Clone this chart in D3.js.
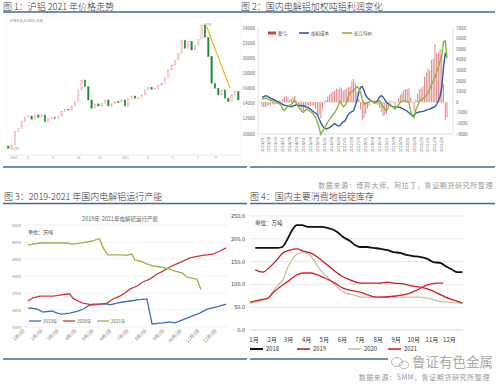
<!DOCTYPE html>
<html>
<head>
<meta charset="utf-8">
<script src="https://cdn.jsdelivr.net/npm/d3@7/dist/d3.min.js"></script>
<style>
  body { margin: 0; background: #fff; }
  svg { display: block; font-family: "Noto Sans CJK SC", "Noto Sans", sans-serif; }
</style>
</head>
<body>
<svg id="chart" width="500" height="386"></svg>
<script>
// ---------- panel 1: SHFE aluminium candles (close per bar) ----------
const p1FirstOpen = 11450;
const p1Close = [11200, 11570, 13030, 13400, 14130, 14610, 14760, 14390, 14870, 14610,
  14870, 14130, 14500, 14610, 14500, 14760, 15230, 15490, 15420, 15860,
  16330, 17620, 18720, 17980, 16520, 15600, 16080, 15860, 16150, 16520,
  15860, 16080, 16330, 16220, 16520, 15860, 16700, 16960, 16700, 16810,
  17070, 17620, 17910, 17690, 17800, 18170, 18350, 19010, 19820, 20370,
  20910, 21650, 23040, 22200, 22930, 22010, 22560, 23190, 24765, 23400,
  21280, 18350, 17800, 17070, 17620, 16700, 16330, 17070, 17430, 16520];
const p1AxisLabels = ['2020', '6', '8', '10', '12', '2021', '3', '5', '7', '9'];
const p1AxisAt = [0.5, 5.5, 13, 20.5, 27, 34, 41.5, 49, 56.5, 62];
const p1Trend = [{ k: 59.5, p: 24600 }, { k: 66.5, p: 17800 }];

// ---------- panel 2: monthly price / cost / profit, 2013/01 - 2021/12 ----------
const p2Price = [14620, 14700, 14750, 14700, 14550, 14450, 14400, 14300, 14200, 14100,
  14000, 13800, 13300, 13070, 13400, 13600, 13800, 13950, 14200, 14400,
  14000, 13600, 13300, 13000, 12850, 13100, 13290, 13100, 12950, 12800,
  12500, 12180, 11600, 10900, 9960, 10400, 10700, 11100, 11600, 11900,
  12200, 12600, 12800, 13200, 13700, 14300, 14000, 13600, 13800, 14180,
  15000, 15500, 15600, 15730, 16000, 16270, 16000, 15500, 14600, 13960,
  14050, 14150, 14250, 14400, 14300, 14050, 14100, 14250, 14400, 14000,
  13600, 13300, 13070, 13500, 13960, 13700, 13500, 13290, 13600, 13900,
  14180, 14300, 14400, 14350, 14250, 14180, 13000, 12300, 12180, 13200,
  13700, 14300, 14500, 14650, 14800, 15100, 15450, 15900, 16500, 17000,
  17510, 18200, 18840, 19600, 20400, 22180, 22300, 20000];
const p2Cost = [14840, 14950, 15060, 15000, 14850, 14700, 14620, 14550, 14400, 14300,
  14200, 14000, 13900, 13800, 13750, 13700, 13650, 13600, 13700, 13800,
  13870, 13800, 13750, 13730, 13730, 13650, 13550, 13450, 13290, 13100,
  12900, 12750, 12620, 12000, 11500, 11100, 10800, 10650, 10750, 10850,
  11000, 11200, 11380, 11200, 11050, 11100, 11400, 11600, 11730, 12200,
  12600, 12840, 12950, 13070, 13800, 14500, 15500, 16180, 16270, 15700,
  15100, 14800, 14600, 14400, 14300, 14250, 14200, 14500, 14900, 15070,
  14900, 14500, 14200, 14000, 13800, 13650, 13600, 13580, 13550, 13530,
  13500, 13400, 13250, 13150, 13000, 12800, 12600, 12400, 12500, 12750,
  12850, 12900, 12950, 12980, 13050, 13150, 13250, 13290, 13400, 13500,
  13600, 13900, 14400, 15000, 16180, 18840, 20620, 20400];
const p2Profit = [-400, -500, -450, -350, -300, -250, -200, -200, -150, -150,
  -100, 100, 300, 500, 600, 400, 200, 300, 500, 600,
  100, -200, -450, -700, -850, -600, -300, -400, -350, -300,
  -400, -600, -1000, -1200, -1500, -700, -100, 200, 500, 700,
  900, 1000, 1100, 1300, 1200, 1400, 1300, 1100, 1200, 1300,
  1400, 1500, 2000, 2200, 1800, 1000, 300, -700, -1700, -1500,
  -1100, -600, -350, 0, 100, -200, -100, -250, -500, -900,
  -1300, -1200, -1100, -500, 160, 50, -100, -300, 50, 370,
  680, 900, 1150, 1200, 1250, 1300, 400, -100, -900, 300,
  800, 1200, 1300, 1500, 2400, 2800, 3200, 3000, 4000, 4100,
  5500, 4600, 4700, 5000, 4500, 1700, -1700, -1400];
const p2Start = new Date(2013, 0, 1);
const p2LabelMonths = d3.range(0, 108, 4);

// ---------- panel 3: operating capacity (day of year, 10k t) ----------
const p3Days2019 = [7, 23, 33, 49, 58, 66, 80, 94, 103, 112, 120, 145, 150, 162, 172, 185, 197, 214, 223, 242, 254, 263, 275, 289, 306, 320, 336, 352];
const p3Cap2019 = [3612, 3606, 3588, 3594, 3582, 3576, 3582, 3594, 3606, 3624, 3635, 3635, 3630, 3641, 3647, 3653, 3659, 3665, 3518, 3524, 3530, 3524, 3541, 3559, 3582, 3606, 3618, 3635];
const p3Days2020 = [7, 16, 28, 51, 63, 75, 80, 85, 94, 103, 112, 120, 132, 145, 155, 167, 176, 185, 197, 207, 219, 232, 242, 254, 266, 277, 289, 306, 318, 329, 341, 352];
const p3Cap2020 = [3653, 3671, 3682, 3682, 3688, 3694, 3694, 3671, 3653, 3641, 3635, 3629, 3635, 3641, 3665, 3682, 3700, 3724, 3741, 3765, 3782, 3812, 3829, 3853, 3871, 3888, 3906, 3918, 3924, 3929, 3947, 3965];
const p3Days2021 = [7, 16, 28, 51, 75, 84, 98, 110, 120, 129, 132, 138, 146, 159, 171, 179, 188, 193, 202, 214, 225, 237, 245, 254, 263, 275, 284, 292, 301, 308];
const p3Cap2021 = [3982, 3988, 3994, 3994, 3994, 3988, 3994, 4000, 4006, 4018, 4018, 3965, 3924, 3924, 3924, 3921, 3929, 3894, 3888, 3871, 3859, 3853, 3847, 3841, 3829, 3818, 3794, 3788, 3782, 3720];
const p3TickDays = [2, 33, 61, 92, 122, 153, 183, 214, 245, 275, 306, 336];
const p3TickLabels = ['1月2日', '2月2日', '3月2日', '4月2日', '5月2日', '6月2日', '7月2日', '8月2日', '9月2日', '10月2日', '11月2日', '12月2日'];

// ---------- panel 4: ingot stocks (day of year, 10k t) ----------
const p4Days2018 = [10, 30, 47, 56, 64, 73, 81, 90, 100, 112, 124, 133, 141, 150, 160, 172, 181, 189, 201, 212, 224, 236, 246, 258, 270, 280, 292, 304, 314, 326, 338, 347, 355, 364];
const p4Stock2018 = [180, 180, 180, 182, 197, 219, 230, 230, 226, 226, 226, 224, 221, 215, 204, 195, 186, 182, 182, 180, 178, 175, 171, 169, 164, 162, 160, 156, 149, 147, 138, 132, 127, 127];
const p4Days2019 = [10, 23, 35, 47, 57, 69, 81, 92, 104, 116, 129, 143, 158, 172, 189, 206, 224, 236, 246, 263, 280, 292, 304, 321, 335, 348, 364];
const p4Stock2019 = [132, 127, 138, 154, 169, 175, 178, 173, 169, 160, 147, 132, 118, 110, 103, 103, 103, 105, 103, 101, 96, 94, 90, 81, 72, 66, 59];
const p4Days2020 = [1, 18, 32, 40, 49, 57, 66, 75, 87, 95, 104, 112, 121, 129, 138, 152, 164, 177, 194, 218, 241, 263, 287, 304, 321, 338, 364];
const p4Stock2020 = [59, 64, 70, 83, 99, 110, 138, 158, 169, 169, 164, 149, 132, 121, 110, 92, 81, 77, 72, 72, 72, 72, 72, 70, 64, 61, 59];
const p4Days2021 = [1, 18, 32, 40, 52, 64, 81, 92, 104, 116, 129, 143, 160, 189, 220, 246, 270, 287, 304, 321, 331];
const p4Stock2021 = [61, 66, 70, 81, 94, 105, 121, 125, 125, 121, 114, 105, 92, 83, 72, 74, 79, 88, 99, 103, 103];
const p4Months = ['1月', '2月', '3月', '4月', '5月', '6月', '7月', '8月', '9月', '10月', '11月', '12月'];
const p4MonthStart = [1, 32, 60, 91, 121, 152, 182, 213, 244, 274, 305, 335];

const svg = d3.select('#chart');
const navy = '#4a6796';

// ---------- frame: titles, rules, sources ----------
const titles = [
  { x: 3, y: 9.5, t: '图 1：沪铝 2021 年价格走势' },
  { x: 241, y: 9.5, t: '图 2：国内电解铝加权吨铝利润变化' },
  { x: 4, y: 200, t: '图 3：2019-2021 年国内电解铝运行产能' },
  { x: 250, y: 200, t: '图 4：国内主要消费地铝锭库存' },
];
svg.selectAll('text.title').data(titles).join('text')
  .attr('class', 'title')
  .attr('x', d => d.x).attr('y', d => d.y)
  .attr('font-size', 9).attr('fill', '#333').attr('font-weight', 300)
  .text(d => d.t);

const rules = [[3, 12, 495], [3, 167, 247], [250, 167, 495], [3, 203.5, 247], [250, 203.5, 495], [3, 359, 247], [250, 359, 388]];
svg.selectAll('line.rule').data(rules).join('line')
  .attr('class', 'rule')
  .attr('x1', d => d[0]).attr('x2', d => d[2])
  .attr('y1', d => d[1]).attr('y2', d => d[1])
  .attr('stroke', navy).attr('stroke-width', 1.6);

svg.append('text').attr('x', 493).attr('y', 188).attr('text-anchor', 'end')
  .attr('font-size', 7).attr('fill', '#999').attr('letter-spacing', 0.6)
  .text('数据来源：博弈大师，阿拉丁，鲁证期货研究所整理');
svg.append('text').attr('x', 490).attr('y', 380).attr('text-anchor', 'end')
  .attr('font-size', 7).attr('fill', '#999').attr('letter-spacing', 0.6)
  .text('数据来源：SMM，鲁证期货研究所整理');

// watermark
const wm = svg.append('g').attr('fill', 'none').attr('stroke', '#aaa').attr('stroke-width', 0.9);
wm.append('ellipse').attr('cx', 397).attr('cy', 362).attr('rx', 5.5).attr('ry', 4.5);
wm.append('ellipse').attr('cx', 404).attr('cy', 365).attr('rx', 4.5).attr('ry', 3.8);
svg.append('text').attr('x', 412).attr('y', 367).attr('font-size', 13.5)
  .attr('fill', '#aaa').text('鲁证有色金属');

// ---------- panel 1 ----------
const g1 = svg.append('g');
const x1 = d3.scaleLinear().domain([0, p1Close.length - 1]).range([8.3, 238.3]);
const y1 = d3.scaleLinear().domain([11200, 24765]).range([148.3, 25]);
g1.append('rect').attr('x', 6).attr('y', 17).attr('width', 235).attr('height', 145)
  .attr('fill', '#fff').attr('stroke', '#f0f0f0').attr('stroke-width', 0.6);
g1.append('line').attr('x1', 7).attr('x2', 240).attr('y1', 155).attr('y2', 155)
  .attr('stroke', '#ddd').attr('stroke-width', 0.6);
g1.selectAll('text.tk').data(p1AxisLabels).join('text')
  .attr('class', 'tk')
  .attr('x', (d, i) => x1(p1AxisAt[i])).attr('y', 158.5)
  .attr('font-size', 3.2).attr('fill', '#999').text(d => d);
g1.append('text').attr('x', 10).attr('y', 21.5).attr('font-size', 3.2).attr('fill', '#888')
  .text('沪铝主连(AL8888) 日线');

const candles = p1Close.map((c, i) => ({ i, o: i ? p1Close[i - 1] : p1FirstOpen, c }));
g1.selectAll('rect.cd').data(candles).join('rect')
  .attr('class', 'cd')
  .attr('x', d => x1(d.i) - 0.75)
  .attr('width', 1.5)
  .attr('y', d => y1(Math.max(d.o, d.c)))
  .attr('height', d => Math.max(0.6, Math.abs(y1(d.o) - y1(d.c))))
  .attr('fill', d => d.c >= d.o ? '#fbe3e3' : '#1f8a3c')
  .attr('stroke', d => d.c >= d.o ? '#ef9a9a' : '#1f8a3c')
  .attr('stroke-width', 0.4);

g1.append('line')
  .attr('x1', x1(p1Trend[0].k)).attr('y1', y1(p1Trend[0].p))
  .attr('x2', x1(p1Trend[1].k)).attr('y2', y1(p1Trend[1].p))
  .attr('stroke', '#f2b300').attr('stroke-width', 1.1);
g1.append('text').attr('x', x1(58) + 2).attr('y', y1(24765) + 1).attr('font-size', 3)
  .attr('fill', '#999').text('24765');
g1.append('text').attr('x', x1(0) + 2).attr('y', y1(11200) + 2).attr('font-size', 3)
  .attr('fill', '#999').text('11230');

// ---------- panel 2 ----------
const g2 = svg.append('g');
const x2 = d3.scaleLinear().domain([0, p2Price.length - 1]).range([262, 447]);
const yL = d3.scaleLinear().domain([10000, 24000]).range([134, 28]);
const yR = d3.scaleLinear().domain([-3000, 7000]).range([134, 28]);

g2.append('line').attr('x1', 258).attr('x2', 258).attr('y1', 28).attr('y2', 134).attr('stroke', '#ccc').attr('stroke-width', 0.6);
g2.append('line').attr('x1', 453).attr('x2', 453).attr('y1', 28).attr('y2', 134).attr('stroke', '#ccc').attr('stroke-width', 0.6);
g2.append('line').attr('x1', 258).attr('x2', 453).attr('y1', 134).attr('y2', 134).attr('stroke', '#ccc').attr('stroke-width', 0.6);
g2.append('line').attr('x1', 258).attr('x2', 453).attr('y1', yR(0)).attr('y2', yR(0)).attr('stroke', '#ddd').attr('stroke-width', 0.5);

g2.selectAll('text.yl').data(yL.ticks(7)).join('text').attr('class', 'yl')
  .attr('x', 255).attr('y', d => yL(d) + 1.5).attr('text-anchor', 'end')
  .attr('font-size', 4.5).attr('fill', '#666').text(d => d);
g2.selectAll('text.yr').data(d3.range(-3000, 7001, 1000)).join('text').attr('class', 'yr')
  .attr('x', 456).attr('y', d => yR(d) + 1.5)
  .attr('font-size', 4.5).attr('fill', '#666').text(d => d);

g2.selectAll('text.xl').data(p2LabelMonths).join('text').attr('class', 'xl')
  .attr('transform', d => `translate(${x2(d) + 1.5},137) rotate(-90)`)
  .attr('text-anchor', 'end').attr('font-size', 4).attr('fill', '#666')
  .text(d => d3.timeFormat('%Y/%m')(d3.timeMonth.offset(p2Start, d)));

g2.selectAll('rect.pf').data(p2Profit).join('rect').attr('class', 'pf')
  .attr('x', (d, i) => x2(i) - 0.5).attr('width', 1)
  .attr('y', d => Math.min(yR(d), yR(0)))
  .attr('height', d => Math.abs(yR(d) - yR(0)))
  .attr('fill', '#d9686a').attr('opacity', 0.8);

const line2 = s => d3.line().x((d, i) => x2(i)).y(d => yL(d))(s);
g2.append('path').attr('d', line2(p2Cost)).attr('fill', 'none').attr('stroke', '#2f5ba8').attr('stroke-width', 1.4);
g2.append('path').attr('d', line2(p2Price)).attr('fill', 'none').attr('stroke', '#8cb43c').attr('stroke-width', 1.4);

const lg2 = g2.append('g').attr('font-size', 4.5).attr('fill', '#444');
lg2.append('rect').attr('x', 268).attr('y', 31.5).attr('width', 8).attr('height', 3).attr('fill', '#c9494b');
lg2.append('text').attr('x', 278).attr('y', 34.8).text('盈亏');
lg2.append('line').attr('x1', 299).attr('x2', 309).attr('y1', 33).attr('y2', 33).attr('stroke', '#2f5ba8').attr('stroke-width', 1.6);
lg2.append('text').attr('x', 311).attr('y', 34.8).text('加权成本');
lg2.append('line').attr('x1', 342).attr('x2', 352).attr('y1', 33).attr('y2', 33).attr('stroke', '#8cb43c').attr('stroke-width', 1.6);
lg2.append('text').attr('x', 354).attr('y', 34.8).text('长江均价');

// ---------- panel 3 ----------
const g3 = svg.append('g');
const x3 = d3.scaleLinear().domain([2, 336]).range([25, 217]);
const y3 = d3.scaleLinear().domain([3500, 4100]).range([327, 225]);
const t3 = d3.range(3500, 4101, 100);
g3.selectAll('line.gd').data(t3).join('line').attr('class', 'gd')
  .attr('x1', 24).attr('x2', 227).attr('y1', d => y3(d)).attr('y2', d => y3(d))
  .attr('stroke', '#e3e3e3').attr('stroke-width', 0.5);
g3.selectAll('text.yl').data(t3).join('text').attr('class', 'yl')
  .attr('x', 21).attr('y', d => y3(d) + 1.5).attr('text-anchor', 'end')
  .attr('font-size', 4.2).attr('fill', '#888').text(d => d);
g3.selectAll('text.xl').data(p3TickDays).join('text').attr('class', 'xl')
  .attr('transform', d => `translate(${x3(d)},331) rotate(-45)`)
  .attr('text-anchor', 'end').attr('font-size', 4.6).attr('fill', '#777')
  .text((d, i) => p3TickLabels[i]);
g3.append('text').attr('x', 120).attr('y', 221).attr('text-anchor', 'middle')
  .attr('font-size', 5.5).attr('fill', '#666').text('2019年-2021年电解铝运行产能');
g3.append('text').attr('x', 28).attr('y', 234).attr('font-size', 5)
  .attr('fill', '#333').text('单位：万吨');

const ser3 = [
  { days: p3Days2019, vals: p3Cap2019, color: '#3f6fb5', name: '2019年' },
  { days: p3Days2020, vals: p3Cap2020, color: '#d0393a', name: '2020年' },
  { days: p3Days2021, vals: p3Cap2021, color: '#92b545', name: '2021年' },
];
ser3.forEach((s, j) => {
  const pts = s.days.map((d, i) => [x3(d), y3(s.vals[i])]);
  g3.append('path').attr('d', d3.line()(pts)).attr('fill', 'none')
    .attr('stroke', s.color).attr('stroke-width', 1.3);
});
const lg3x = [29, 63, 97];
ser3.forEach((s, j) => {
  g3.append('line').attr('x1', lg3x[j]).attr('x2', lg3x[j] + 12).attr('y1', 321).attr('y2', 321)
    .attr('stroke', s.color).attr('stroke-width', 1.3);
  g3.append('text').attr('x', lg3x[j] + 14).attr('y', 322.5).attr('font-size', 4.5)
    .attr('fill', '#666').text(s.name);
});

// ---------- panel 4 ----------
const g4 = svg.append('g');
const x4 = d3.scaleLinear().domain([1, 365]).range([250, 463]);
const y4 = d3.scaleLinear().domain([0, 250]).range([330, 216]);
const t4 = d3.range(0, 251, 50);
g4.selectAll('line.gd').data(t4).join('line').attr('class', 'gd')
  .attr('x1', 250).attr('x2', 463).attr('y1', d => y4(d)).attr('y2', d => y4(d))
  .attr('stroke', d => d ? '#d9d9d9' : '#bbb').attr('stroke-width', 0.6);
g4.selectAll('text.yl').data(t4).join('text').attr('class', 'yl')
  .attr('x', 245).attr('y', d => y4(d) + 2).attr('text-anchor', 'end')
  .attr('font-size', 5.6).attr('fill', '#444').text(d => d.toFixed(1));
g4.selectAll('text.xl').data(p4MonthStart).join('text').attr('class', 'xl')
  .attr('x', d => x4(d) + 4).attr('y', 341.5).attr('text-anchor', 'middle')
  .attr('font-size', 6).attr('fill', '#333').text((d, i) => p4Months[i]);
g4.append('text').attr('x', 255).attr('y', 225).attr('font-size', 5.5)
  .attr('fill', '#333').text('单位：万吨');

const ser4 = [
  { days: p4Days2020, vals: p4Stock2020, color: '#c9c0a2', w: 1.3, name: '2020' },
  { days: p4Days2019, vals: p4Stock2019, color: '#c41e24', w: 1.3, name: '2019' },
  { days: p4Days2021, vals: p4Stock2021, color: '#dd1f26', w: 1.3, name: '2021' },
  { days: p4Days2018, vals: p4Stock2018, color: '#111', w: 1.8, name: '2018' },
];
ser4.forEach(s => {
  const pts = s.days.map((d, i) => [x4(d), y4(s.vals[i])]);
  g4.append('path').attr('d', d3.line().curve(d3.curveMonotoneX)(pts)).attr('fill', 'none')
    .attr('stroke', s.color).attr('stroke-width', s.w);
});
const lg4 = [ser4[3], ser4[1], ser4[0], ser4[2]];
const lg4x = [250, 297, 348, 388];
lg4.forEach((s, j) => {
  g4.append('line').attr('x1', lg4x[j]).attr('x2', lg4x[j] + 13).attr('y1', 349).attr('y2', 349)
    .attr('stroke', s.color).attr('stroke-width', s.w + 0.3);
  g4.append('text').attr('x', lg4x[j] + 16).attr('y', 351.2).attr('font-size', 5.8)
    .attr('fill', '#333').text(s.name);
});
</script>
</body>
</html>
